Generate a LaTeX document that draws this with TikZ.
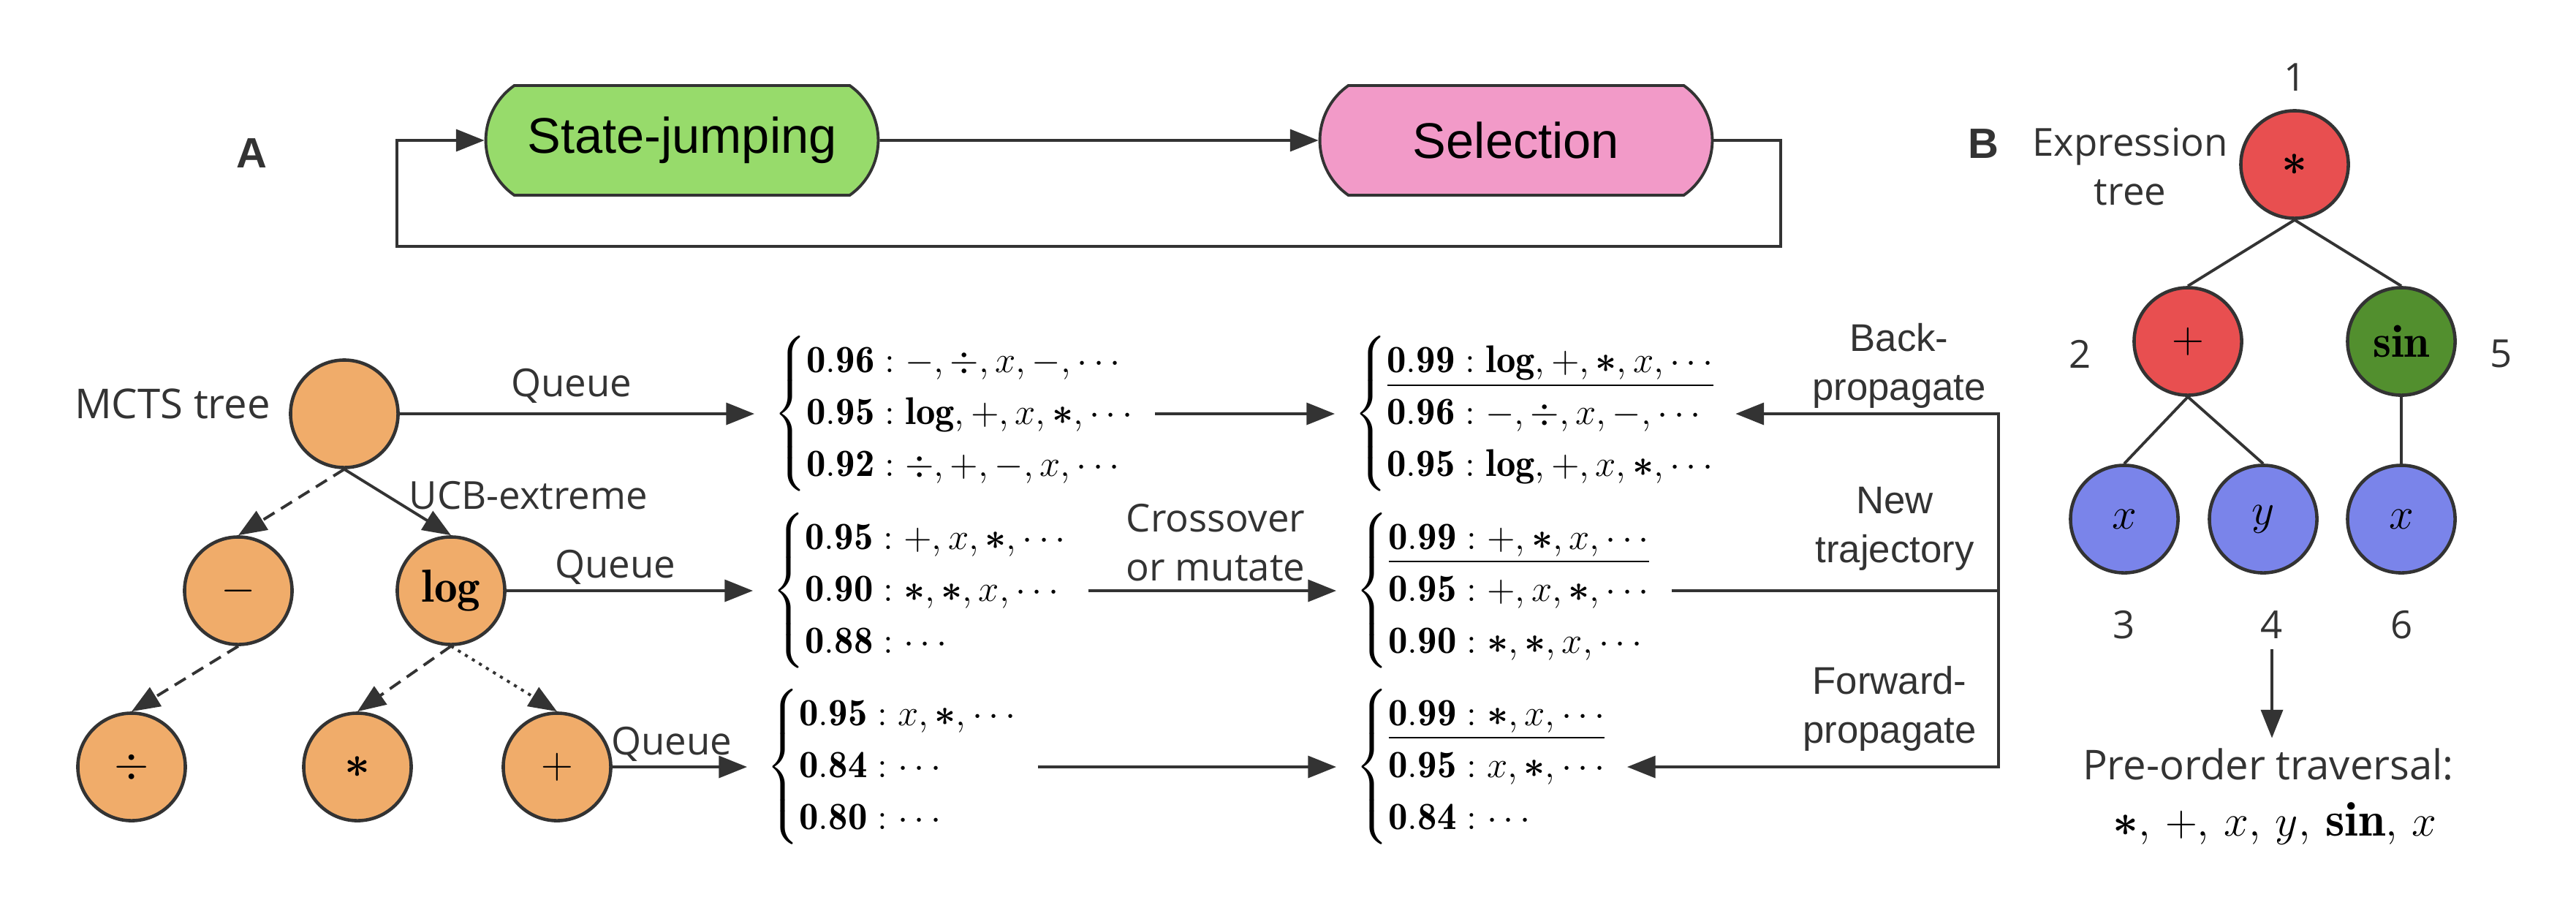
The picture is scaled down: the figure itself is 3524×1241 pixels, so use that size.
\documentclass[tikz,border=0pt]{standalone}
\usepackage{amsmath}
\usepackage{fontspec}
\usetikzlibrary{arrows.meta,shapes.misc}

\newfontfamily\lblfont{Open Sans}
\newfontfamily\boxfont{Liberation Sans}

\definecolor{linegray}{HTML}{333333}
\definecolor{mctsorange}{HTML}{F0AC6A}
\definecolor{jumpgreen}{HTML}{97DB6B}
\definecolor{selpink}{HTML}{F29AC8}
\definecolor{exprred}{HTML}{E84F50}
\definecolor{exprgreen}{HTML}{528F2E}
\definecolor{exprblue}{HTML}{7A84EA}

% score of one queue entry
\newcommand{\qs}[1]{\mathbf{#1}\mathrel{\mathbf{:}}}
% a queue: brace and three rows
\newcommand{\qlist}[3]{$\def\arraystretch{1.12}\left\{\begin{array}{@{}l@{}}#1\\#2\\#3\end{array}\right.$}

\begin{document}
\begin{tikzpicture}[x=0.01cm, y=-0.01cm, line width=1.1pt, draw=linegray,
  arr/.style = {-{Triangle[length=11pt,width=8.5pt]}},
  stage/.style = {rounded rectangle, rounded rectangle arc length=110, draw=linegray,
    minimum width=5.6cm, minimum height=1.5cm, font=\boxfont\fontsize{19.5}{23}\selectfont},
  mcts/.style = {circle, draw=linegray, line width=1.3pt, fill=mctsorange,
    minimum size=1.47cm, inner sep=0pt, font=\fontsize{18}{20}\selectfont},
  expr/.style = {circle, draw=linegray, line width=1.3pt,
    minimum size=1.47cm, inner sep=0pt, font=\fontsize{18}{20}\selectfont},
  queue/.style = {anchor=west, inner xsep=7pt, inner ysep=0pt, font=\fontsize{15}{18}\selectfont},
  lbl/.style = {text=linegray, font=\lblfont\fontsize{15}{19}\selectfont, align=center},
  sidelbl/.style = {text=linegray, font=\boxfont\fontsize{15}{19}\selectfont, align=center},
  panel/.style = {text=linegray, font=\boxfont\bfseries\fontsize{16.5}{20}\selectfont}]

\useasboundingbox (0,0) rectangle (3524,1241);

% A: loop
\node[panel] (lblA) at (344,210) {A};
\node[stage, fill=jumpgreen] (jump) at (933,192) {State-jumping};
\node[stage, fill=selpink] (sel) at (2074,192) {Selection};
\coordinate (loopr) at (2436,337);
\coordinate (loopl) at (543,337);
\draw[arr] (jump) -- (sel);
\draw[arr] (sel.east) -| (loopr) -| (loopl) |- (jump.west);

% MCTS tree
\node[lbl, font=\lblfont\fontsize{16}{19}\selectfont] (mctslbl) at (236,552) {MCTS tree};
\node[mcts] (root) at (471,566) {};
\node[mcts] (minus) at (326,808) {$-$};
\node[mcts] (log) at (617,808) {$\mathbf{log}$};
\node[mcts] (div) at (180,1049) {$\div$};
\node[mcts] (star) at (489,1049) {$\boldsymbol{*}$};
\node[mcts] (plus) at (762,1049) {$+$};

\draw[arr, dash pattern=on 5pt off 3pt] (root.south) -- (minus.north);
\draw[arr] (root.south) -- (log.north);
\draw[arr, dash pattern=on 5pt off 3pt] (minus.south) -- (div.north);
\draw[arr, dash pattern=on 5pt off 3pt] (log.south) -- (star.north);
\draw[arr, dash pattern=on 1.2pt off 2pt] (log.south) -- (plus.north);
\node[lbl] (ucb) at (723,678) {UCB-extreme};

% queues
\node[queue] (g1) at (1032,566) {\qlist
  {\qs{0.96}{-},{\div},x,{-},\cdots}
  {\qs{0.95}\mathbf{log},{+},x,\boldsymbol{*},\cdots}
  {\qs{0.92}{\div},{+},{-},x,\cdots}};
\node[queue] (g2) at (1030,808) {\qlist
  {\qs{0.95}{+},x,\boldsymbol{*},\cdots}
  {\qs{0.90}\boldsymbol{*},\boldsymbol{*},x,\cdots}
  {\qs{0.88}\cdots}};
\node[queue] (g3) at (1022,1049) {\qlist
  {\qs{0.95}x,\boldsymbol{*},\cdots}
  {\qs{0.84}\cdots}
  {\qs{0.80}\cdots}};
\node[queue] (g4) at (1826,566) {\qlist
  {\underline{\qs{0.99}\mathbf{log},{+},\boldsymbol{*},x,\cdots}}
  {\qs{0.96}{-},{\div},x,{-},\cdots}
  {\qs{0.95}\mathbf{log},{+},x,\boldsymbol{*},\cdots}};
\node[queue] (g5) at (1828,808) {\qlist
  {\underline{\qs{0.99}{+},\boldsymbol{*},x,\cdots}}
  {\qs{0.95}{+},x,\boldsymbol{*},\cdots}
  {\qs{0.90}\boldsymbol{*},\boldsymbol{*},x,\cdots}};
\node[queue] (g6) at (1828,1049) {\qlist
  {\underline{\qs{0.99}\boldsymbol{*},x,\cdots}}
  {\qs{0.95}x,\boldsymbol{*},\cdots}
  {\qs{0.84}\cdots}};

\draw[arr] (root) -- (g1);
\draw[arr] (log) -- (g2);
\draw[arr] (plus) -- (g3);
\draw[arr] (g1) -- (g4);
\draw[arr] (g2) -- (g5);
\draw[arr] (g3) -- (g6);
\node[lbl] (q1) at (782,528) {Queue};
\node[lbl] (q2) at (842,776) {Queue};
\node[lbl] (q3) at (919,1018) {Queue};
\node[lbl] (cross) at (1663,742) {Crossover\\or mutate};

% new trajectory back into the queues
\coordinate (split) at (2734,808);
\draw (g5) -- (split);
\draw[arr] (split) |- (g4);
\draw[arr] (split) |- (g6);
\node[sidelbl] (back) at (2598,500) {Back-\\propagate};
\node[sidelbl] (newtr) at (2592,723) {New\\trajectory};
\node[sidelbl] (fwd) at (2585,969) {Forward-\\propagate};

% B: expression tree
\node[panel] (lblB) at (2713,197) {B};
\node[lbl] (exprlbl) at (2914,228) {Expression\\tree};
\node[expr, fill=exprred] (r1) at (3139,225) {$\boldsymbol{*}$};
\node[expr, fill=exprred] (p2) at (2993,467) {$+$};
\node[expr, fill=exprgreen] (s5) at (3285,467) {$\mathbf{sin}$};
\node[expr, fill=exprblue] (x3) at (2906,710) {$x$};
\node[expr, fill=exprblue] (y4) at (3096,710) {$y$};
\node[expr, fill=exprblue] (x6) at (3285,710) {$x$};
\foreach \a/\b in {r1/p2, r1/s5, p2/x3, p2/y4, s5/x6}
  \draw (\a.south) -- (\b.north);
\foreach \n/\px/\py in {1/3140/106, 2/2846/484, 5/3422/484, 3/2906/855, 4/3108/855, 6/3286/855}
  \node[lbl] (n\n) at (\px,\py) {\n};

\node[lbl, font=\lblfont\fontsize{16}{19}\selectfont] (pre) at (3103,1045) {Pre-order traversal:};
\node[font=\fontsize{19}{22}\selectfont] (seq) at (3112,1126)
  {$\boldsymbol{*},\,{+},\,x,\,y,\,\mathbf{sin},\,x$};
\draw[arr] (n4.south) -- (n4.south |- pre.north);
\end{tikzpicture}
\end{document}
